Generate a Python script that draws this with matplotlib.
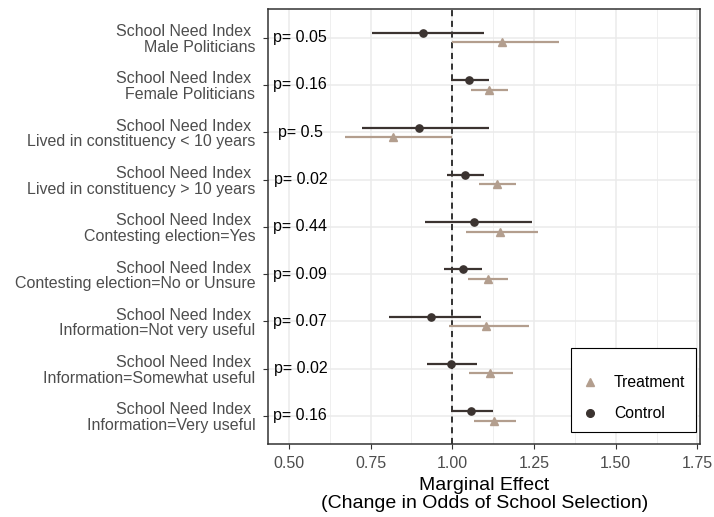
import matplotlib
matplotlib.use("Agg")
import matplotlib.pyplot as plt
from matplotlib.lines import Line2D
from matplotlib.ticker import MultipleLocator
import numpy as np

plt.rcParams['font.family'] = ['Liberation Sans', 'DejaVu Sans']

# rows, top to bottom
subgroups = [
    "Male Politicians",
    "Female Politicians",
    "Lived in constituency < 10 years",
    "Lived in constituency > 10 years",
    "Contesting election=Yes",
    "Contesting election=No or Unsure",
    "Information=Not very useful",
    "Information=Somewhat useful",
    "Information=Very useful",
]
p_values = ["p= 0.05", "p= 0.16", "p= 0.5", "p= 0.02", "p= 0.44",
            "p= 0.09", "p= 0.07", "p= 0.02", "p= 0.16"]

control_est = [0.909, 1.052, 0.897, 1.039, 1.067, 1.032, 0.936, 0.995, 1.058]
control_lo = [0.755, 0.997, 0.724, 0.984, 0.915, 0.976, 0.805, 0.923, 0.995]
control_hi = [1.098, 1.111, 1.111, 1.096, 1.244, 1.091, 1.088, 1.075, 1.125]

treat_est = [1.151, 1.112, 0.820, 1.138, 1.146, 1.108, 1.104, 1.115, 1.129]
treat_lo = [1.000, 1.057, 0.673, 1.083, 1.043, 1.047, 0.991, 1.052, 1.065]
treat_hi = [1.325, 1.171, 1.000, 1.196, 1.261, 1.171, 1.234, 1.185, 1.196]

control_col = "#3b3330"
treat_col = "#b39e8e"

fig = plt.figure(figsize=(7.14, 5.17), dpi=100)
ax = fig.add_axes([0.3758, 0.1406, 0.6046, 0.8414])

n = len(subgroups)
y = np.arange(n)
dodge = 0.1

ax.set_xlim(0.437, 1.758)
ax.set_ylim(n - 0.4, -0.6)

ax.xaxis.set_major_locator(MultipleLocator(0.25))
ax.xaxis.set_minor_locator(MultipleLocator(0.125))
ax.grid(which="major", color="#ebebeb", linewidth=1.1, zorder=0)
ax.grid(which="minor", axis="x", color="#ebebeb", linewidth=0.55, zorder=0)
ax.set_axisbelow(True)

ax.axvline(1.0, color="black", linestyle=(0, (4, 3)), linewidth=1.1, zorder=1)

ax.hlines(y - dodge, control_lo, control_hi, color=control_col, linewidth=1.6, zorder=2)
ax.plot(control_est, y - dodge, "o", color=control_col, markersize=5.2, zorder=3)
ax.hlines(y + dodge, treat_lo, treat_hi, color=treat_col, linewidth=1.6, zorder=2)
ax.plot(treat_est, y + dodge, "^", color=treat_col, markersize=5.8, zorder=3)

for yi, p in zip(y, p_values):
    ax.text(0.535, yi, p, ha="center", va="center", fontsize=11.5, color="black")

ax.set_yticks(y)
ax.set_yticklabels(["School Need Index \n" + s for s in subgroups],
                   fontsize=11.5, color="#4d4d4d", linespacing=1.05)
ax.set_xticks([0.5, 0.75, 1.0, 1.25, 1.5, 1.75])
ax.set_xticklabels(["0.50", "0.75", "1.00", "1.25", "1.50", "1.75"],
                   fontsize=11.5, color="#4d4d4d")
ax.tick_params(axis="both", which="major", length=3.5, width=0.8, color="#333333")
ax.tick_params(axis="y", pad=6)
ax.tick_params(axis="x", pad=5)
ax.tick_params(axis="x", which="minor", length=0)

for sp in ax.spines.values():
    sp.set_color("#333333")
    sp.set_linewidth(1.1)

ax.set_xlabel("Marginal Effect\n(Change in Odds of School Selection)",
              fontsize=14, color="black", linespacing=1.08, labelpad=4)

handles = [
    Line2D([], [], marker="^", color=treat_col, linestyle="none", markersize=6),
    Line2D([], [], marker="o", color=control_col, linestyle="none", markersize=5.5),
]
leg = ax.legend(handles, ["Treatment", "Control"], title=" ", title_fontsize=1.5,
                loc="lower right", bbox_to_anchor=(0.991, 0.028), borderaxespad=0,
                fontsize=11.3, frameon=True, fancybox=False, edgecolor="black",
                framealpha=1, handlelength=1.05, handletextpad=1.0, borderpad=0.7,
                labelspacing=1.0)
leg.get_frame().set_linewidth(0.8)

fig.savefig("out.png", dpi=100)
